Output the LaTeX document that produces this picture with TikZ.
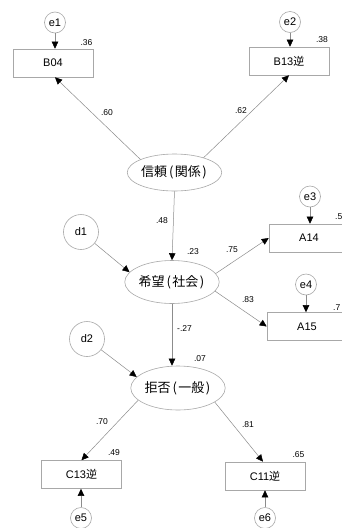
\documentclass[tikz,border=0pt]{standalone}
\usepackage{fontspec}
\setmainfont{Liberation Sans}
\newfontfamily\cjk{Noto Sans CJK JP}
\usetikzlibrary{arrows.meta,shapes.geometric}
\definecolor{edgegray}{HTML}{8C8C8C}
\definecolor{linegray}{HTML}{A8A8A8}
\newcommand\jlp{\kern2pt(\kern1.5pt}
\newcommand\jrp{\kern1.5pt)\kern1pt}
\tikzset{
  obs/.style={draw=linegray,line width=0.6pt,minimum width=80pt,minimum height=28pt,inner sep=0pt,font=\fontsize{11}{12}\selectfont},
  err/.style={circle,draw=linegray,line width=0.6pt,minimum size=21pt,inner sep=0pt,font=\fontsize{11}{12}\selectfont},
  dist/.style={circle,draw=linegray,line width=0.6pt,minimum size=35pt,inner sep=0pt,font=\fontsize{11}{12}\selectfont},
  lat/.style={ellipse,draw=linegray,line width=0.6pt,inner sep=0pt,font=\cjk\fontsize{13}{14}\selectfont},
  arr/.style={draw=edgegray,line width=0.5pt,-{Triangle[length=7pt,width=6.5pt,black]}},
  num/.style={inner sep=0pt,font=\fontsize{8.5}{9}\selectfont},
}
\begin{document}
\begin{tikzpicture}[x=1pt,y=-1pt]
\clip (0,0) rectangle (342,528);
\fill[white] (0,0) rectangle (342,528);
% latent variables
\node[lat,minimum width=86pt,minimum height=37pt] (trust) at (174.5,172.5) {信頼\jlp 関係\jrp};
\node[lat,minimum width=86pt,minimum height=43pt] (hope) at (172,282) {希望\jlp 社会\jrp};
\node[lat,minimum width=87pt,minimum height=44pt] (rej) at (178,388) {拒否\jlp 一般\jrp};
% observed
\node[obs] (b04) at (53,63) {B04};
\node[obs] (b13) at (289,61) {B13{\cjk 逆}};
\node[obs] (a14) at (309,238) {A14};
\node[obs] (a15) at (307,326.5) {A15};
\node[obs] (c13) at (81.5,474.5) {C13{\cjk 逆}};
\node[obs] (c11) at (265,476) {C11{\cjk 逆}};
% errors
\node[err] (e1) at (55,22.5) {e1};
\node[err] (e2) at (290,22) {e2};
\node[err] (e3) at (310,196.5) {e3};
\node[err] (e4) at (306,284.5) {e4};
\node[err] (e5) at (81,518) {e5};
\node[err] (e6) at (265,518) {e6};
\node[dist] (d1) at (81,232) {d1};
\node[dist] (d2) at (87,339) {d2};
% error arrows
\draw[arr] (e1.south) -- (b04.north -| e1.south);
\draw[arr] (e2.south) -- (b13.north -| e2.south);
\draw[arr] (e3.south) -- (a14.north -| e3.south);
\draw[arr] (e4.south) -- (a15.north -| e4.south);
\draw[arr] (e5.north) -- (c13.south -| e5.north);
\draw[arr] (e6.north) -- (c11.south -| e6.north);
\draw[arr] (d1) -- (hope.167);
\draw[arr] (d2) -- (rej.165);
% structural / loadings
\draw[arr] (trust.159) -- ([xshift=2pt]b04.south);
\draw[arr] (trust.27) -- (b13.south);
\draw[arr] (trust.south) -- (hope.north);
\draw[arr] (hope.11) -- (a14.west);
\draw[arr] (hope.-12) -- (a15.west);
\draw[arr] (hope.south) -- (rej.north -| hope.south);
\draw[arr] (rej.197) -- (c13.north);
\draw[arr] (rej.-21) -- ([xshift=-2pt]c11.north);
% coefficients
\node[num] (n36) at (86.5,43) {.36};
\node[num] (n38) at (322,40) {.38};
\node[num] (n60) at (107,113) {.60};
\node[num] (n62) at (241,111) {.62};
\node[num] (n48) at (162,221) {.48};
\node[num] (n23) at (193,252) {.23};
\node[num] (n75) at (232,250) {.75};
\node[num] (n83) at (248,299.5) {.83};
\node[num,anchor=west] (n5) at (335,216.5) {.5};
\node[num,anchor=west] (n7) at (333,308) {.7};
\node[num] (n27) at (184.5,329) {-.27};
\node[num] (n07) at (200,358.5) {.07};
\node[num] (n70) at (102,422) {.70};
\node[num] (n81) at (248,424.5) {.81};
\node[num] (n49) at (114,452.5) {.49};
\node[num] (n65) at (298.5,454.5) {.65};
\end{tikzpicture}
\end{document}
